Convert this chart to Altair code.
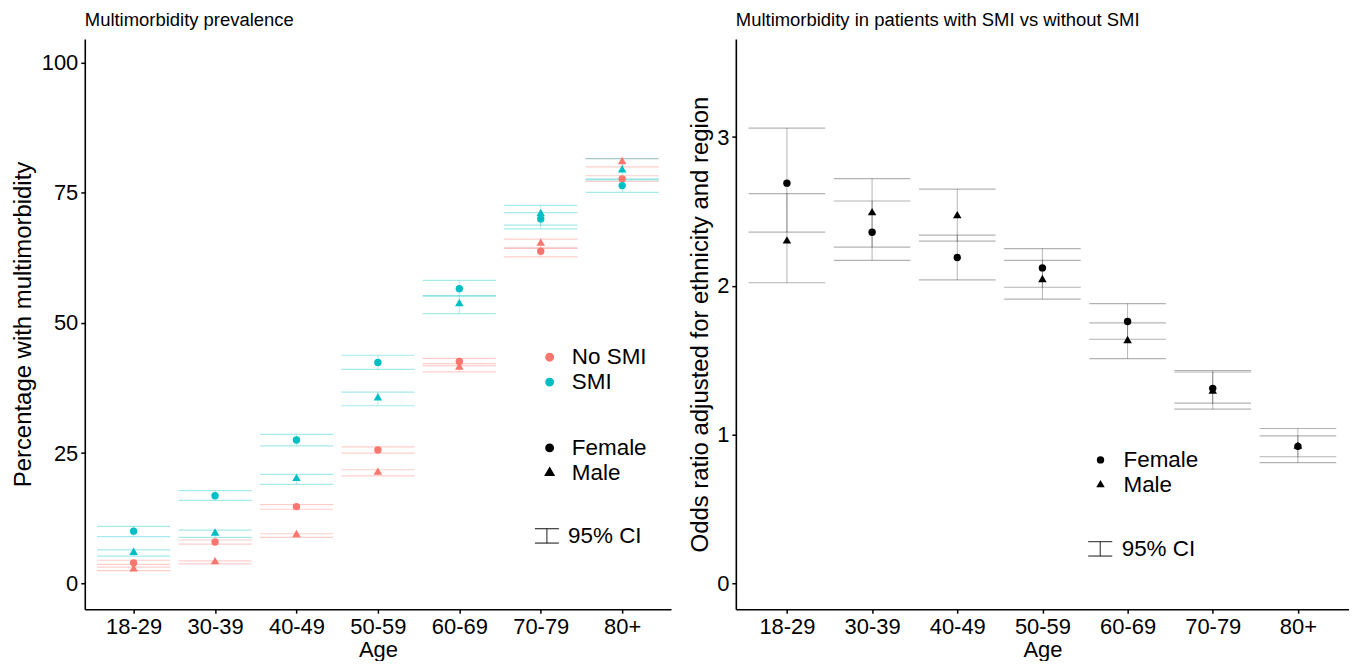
import altair as alt
import pandas as pd

ages = ["18-29", "30-39", "40-49", "50-59", "60-69", "70-79", "80+"]
groups = ["No SMI", "SMI"]
sexes = ["Female", "Male"]

# Left panel: percentage with multimorbidity
smi_f = [10.0, 16.8, 27.5, 42.4, 56.6, 70.0, 76.4]
smi_f_lo = [8.95, 15.9, 26.4, 41.1, 55.2, 68.1, 75.1]
smi_f_hi = [10.9, 17.8, 28.6, 43.8, 58.2, 71.2, 77.7]
smi_m = [5.9, 9.6, 20.1, 35.6, 53.7, 71.0, 79.4]
smi_m_lo = [5.2, 8.8, 19.0, 34.1, 51.8, 68.8, 77.5]
smi_m_hi = [6.4, 10.2, 20.9, 36.7, 55.2, 72.6, 81.6]
nosmi_f = [3.9, 7.9, 14.7, 25.6, 42.6, 63.8, 77.7]
nosmi_f_lo = [3.6, 7.5, 14.2, 25.0, 41.8, 62.7, 77.2]
nosmi_f_hi = [4.4, 8.3, 15.1, 26.2, 43.2, 64.4, 78.3]
nosmi_m = [2.7, 4.1, 9.3, 21.3, 41.5, 65.3, 81.0]
nosmi_m_lo = [2.4, 3.7, 8.8, 20.6, 40.6, 64.4, 80.0]
nosmi_m_hi = [3.1, 4.3, 9.5, 21.8, 42.2, 66.1, 81.6]

# Right panel: odds ratios
or_f = [2.69, 2.36, 2.19, 2.12, 1.76, 1.31, 0.92]
or_f_lo = [2.36, 2.17, 2.04, 1.99, 1.64, 1.21, 0.85]
or_f_hi = [3.06, 2.57, 2.34, 2.25, 1.88, 1.43, 1.04]
or_m = [2.30, 2.49, 2.47, 2.04, 1.63, 1.29, 0.92]
or_m_lo = [2.02, 2.26, 2.30, 1.91, 1.51, 1.17, 0.81]
or_m_hi = [2.62, 2.72, 2.65, 2.17, 1.75, 1.42, 0.99]

ci_label = "95% CI"

left_rows = []
for grp, sex, v, lo, hi in [
    ("No SMI", "Female", nosmi_f, nosmi_f_lo, nosmi_f_hi),
    ("No SMI", "Male", nosmi_m, nosmi_m_lo, nosmi_m_hi),
    ("SMI", "Female", smi_f, smi_f_lo, smi_f_hi),
    ("SMI", "Male", smi_m, smi_m_lo, smi_m_hi),
]:
    for a, vv, l, h in zip(ages, v, lo, hi):
        left_rows.append(dict(age=a, group=grp, sex=sex, value=vv, lo=l, hi=h, ci=ci_label))
left_df = pd.DataFrame(left_rows)

right_rows = []
for sex, v, lo, hi in [("Female", or_f, or_f_lo, or_f_hi), ("Male", or_m, or_m_lo, or_m_hi)]:
    for a, vv, l, h in zip(ages, v, lo, hi):
        right_rows.append(dict(age=a, sex=sex, value=vv, lo=l, hi=h, ci=ci_label))
right_df = pd.DataFrame(right_rows)

FONT = "Liberation Sans"
CI_PATH = "M-1,-0.6H1M0,-0.6V0.6M-1,0.6H1"
TRI_PATH = "M0,-1.33L1.15,0.67L-1.15,0.67Z"
H = 572
LW = 588
RW = 615
LEG_FS = 22.5


def x_enc():
    return alt.X("age:N", sort=ages, scale=alt.Scale(type="point", padding=0.6, domain=ages),
                 axis=alt.Axis(title="Age", labelAngle=0))


def shape_enc(lx, ly, off):
    return alt.Shape("sex:N", scale=alt.Scale(domain=sexes, range=["circle", TRI_PATH]),
                     legend=alt.Legend(title=None, orient="none", legendX=lx, legendY=ly,
                                       symbolFillColor="black", symbolStrokeColor="black",
                                       symbolSize=55, symbolOpacity=1, rowPadding=2,
                                       labelOffset=off))


def ci_enc(lx, ly, off):
    return alt.StrokeDash("ci:N", scale=alt.Scale(domain=[ci_label], range=[[1, 0]]),
                          legend=alt.Legend(title=None, orient="none", legendX=lx, legendY=ly,
                                            symbolType=CI_PATH, symbolSize=576,
                                            symbolStrokeColor="black", symbolStrokeWidth=1,
                                            symbolOpacity=1, labelOffset=off))


color_enc = alt.Color("group:N", scale=alt.Scale(domain=groups, range=["#F8766D", "#00BFC4"]),
                      legend=alt.Legend(title=None, orient="none", legendX=455, legendY=308,
                                        symbolType="circle", symbolSize=55, symbolOpacity=1,
                                        rowPadding=2, labelOffset=11))

ly = alt.Y("lo:Q", scale=alt.Scale(domain=[-5, 104.6], nice=False, zero=False),
           axis=alt.Axis(title="Percentage with multimorbidity", values=[0, 25, 50, 75, 100],
                         titlePadding=6))

lbase = alt.Chart(left_df)
l_rule = lbase.mark_rule(opacity=0.3, strokeWidth=1).encode(
    x=x_enc(), y=ly, y2="hi:Q", color=color_enc, strokeDash=ci_enc(451, 486, 8.7))
l_lo = lbase.mark_tick(size=0.9 * LW / 7.2, thickness=1.2, opacity=0.35).encode(
    x=x_enc(), y="lo:Q", color=color_enc)
l_hi = lbase.mark_tick(size=0.9 * LW / 7.2, thickness=1.2, opacity=0.35).encode(
    x=x_enc(), y="hi:Q", color=color_enc)
l_pts = lbase.mark_point(filled=True, size=55, opacity=1).encode(
    x=x_enc(), y="value:Q", color=color_enc, shape=shape_enc(455, 399, 11))

left = alt.layer(l_rule, l_lo, l_hi, l_pts).properties(
    width=LW, height=H, title="Multimorbidity prevalence")

ry = alt.Y("lo:Q", scale=alt.Scale(domain=[-0.175, 3.66], nice=False, zero=False),
           axis=alt.Axis(title="Odds ratio adjusted for ethnicity and region", values=[0, 1, 2, 3],
                         format="d", titlePadding=4))

rbase = alt.Chart(right_df)
r_rule = rbase.mark_rule(opacity=0.3, strokeWidth=1, color="black").encode(
    x=x_enc(), y=ry, y2="hi:Q", strokeDash=ci_enc(353, 499, 9))
r_lo = rbase.mark_tick(size=0.9 * RW / 7.2, thickness=1.2, opacity=0.3, color="black").encode(
    x=x_enc(), y="lo:Q")
r_hi = rbase.mark_tick(size=0.9 * RW / 7.2, thickness=1.2, opacity=0.3, color="black").encode(
    x=x_enc(), y="hi:Q")
r_pts = rbase.mark_point(filled=True, size=55, opacity=1, color="black").encode(
    x=x_enc(), y="value:Q", shape=shape_enc(354.5, 411, 11.8))

right = alt.layer(r_rule, r_lo, r_hi, r_pts).properties(
    width=RW, height=H, title="Multimorbidity in patients with SMI vs without SMI")

chart = alt.hconcat(left, right, spacing=17).resolve_scale(
    x="independent", y="independent", shape="independent", strokeDash="independent",
    color="independent"
).resolve_legend(shape="independent", strokeDash="independent", color="independent").properties(
    padding={"left": 3, "top": 2, "right": 0, "bottom": 0}
).configure_view(stroke=None).configure_axis(
    grid=False, domainColor="black", domainWidth=1.6, tickColor="black", tickWidth=1.5,
    tickSize=4, labelPadding=3, labelFontSize=22, labelColor="black", labelFont=FONT,
    titleFont=FONT, titleFontSize=24, titleFontWeight="normal", titleColor="black"
).configure_axisX(labelPadding=3, titlePadding=2, titleFontSize=22).configure_title(
    font=FONT, fontSize=18.5, fontWeight="normal", color="black", anchor="start",
    frame="group", offset=9
).configure_legend(labelFont=FONT, labelFontSize=LEG_FS, labelColor="black")

chart.save("out.html", embed_options={"renderer": "svg", "actions": False})
